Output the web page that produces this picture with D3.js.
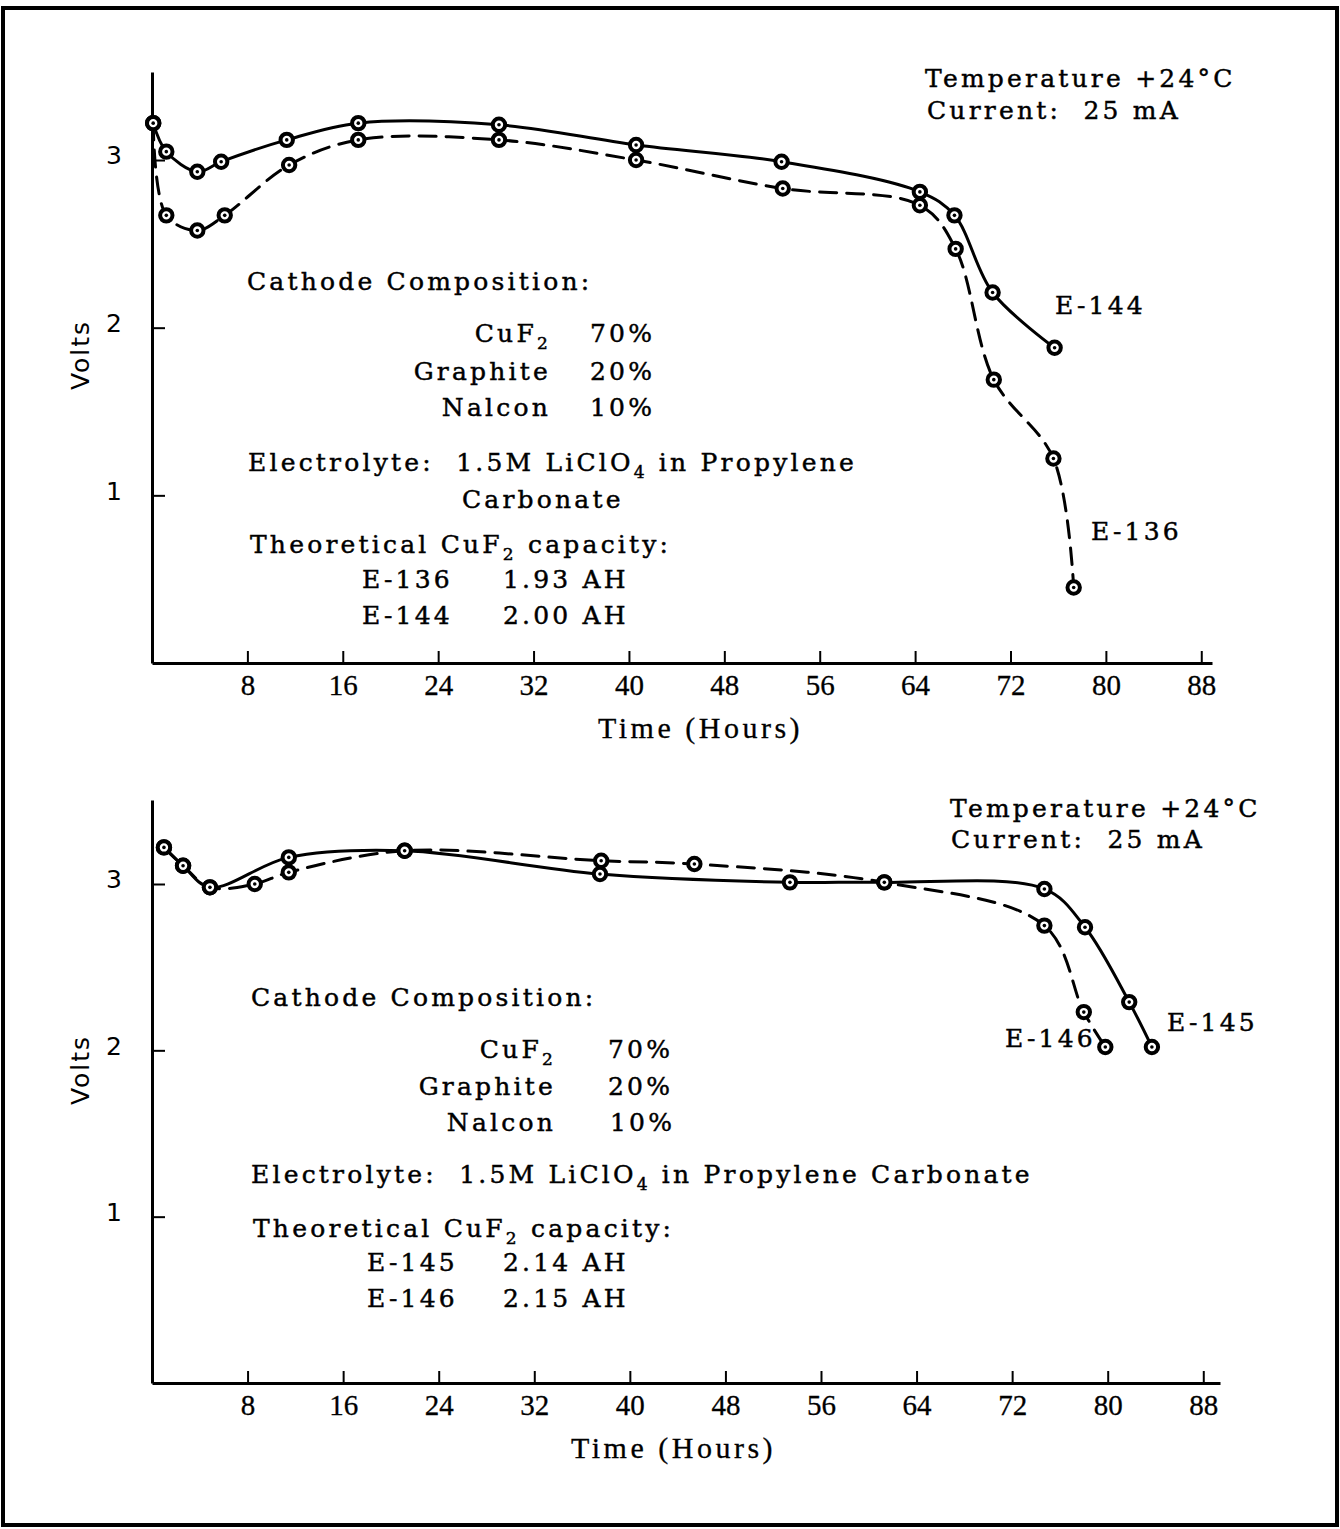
<!DOCTYPE html>
<html>
<head>
<meta charset="utf-8">
<title>CuF2 cells - discharge at 25 mA</title>
<style>
  body { margin: 0; background: #fff; }
  svg text { white-space: pre; }
</style>
<script src="https://cdn.jsdelivr.net/npm/d3@7"></script>
</head>
<body>
<script>
// ---- data (hours, volts) ----
var hourTicks = [8, 16, 24, 32, 40, 48, 56, 64, 72, 80, 88];
var voltTicks = [1, 2, 3];

// top plot
var e144Hours = [0.1, 1.2, 3.8, 5.8, 11.3, 17.3, 29.1, 40.6, 52.8, 64.4, 67.3, 70.5, 75.7];
var e144Volts = [3.22, 3.05, 2.93, 2.99, 3.12, 3.22, 3.21, 3.09, 2.99, 2.81, 2.67, 2.21, 1.88];
var e136Hours = [0.1, 1.2, 3.8, 6.1, 11.5, 17.3, 29.1, 40.6, 52.9, 64.4, 67.4, 70.6, 75.6, 77.3];
var e136Volts = [3.22, 2.67, 2.58, 2.67, 2.97, 3.12, 3.12, 3.00, 2.83, 2.73, 2.47, 1.69, 1.22, 0.45];

// bottom plot
var e145Hours = [1.0, 2.6, 4.85, 11.45, 21.15, 37.5, 53.4, 61.3, 74.7, 78.1, 81.8, 83.7];
var e145Volts = [3.22, 3.11, 2.98, 3.16, 3.20, 3.06, 3.01, 3.01, 2.97, 2.74, 2.29, 2.02];
var e146Hours = [1.0, 2.6, 4.85, 8.6, 11.45, 21.15, 37.6, 45.4, 61.3, 74.7, 78.0, 79.8];
var e146Volts = [3.22, 3.11, 2.98, 3.00, 3.07, 3.20, 3.14, 3.12, 3.01, 2.75, 2.23, 2.02];

var W = 1340, H = 1529;
var serif = "'DejaVu Serif', serif";

var svg = d3.select("body").append("svg")
    .attr("width", W)
    .attr("height", H);

// page frame
svg.append("rect")
    .attr("x", 3).attr("y", 8)
    .attr("width", W - 6).attr("height", H - 12)
    .attr("fill", "none")
    .attr("stroke", "#000")
    .attr("stroke-width", 4);

function zip(hs, vs) {
  return hs.map(function(h, i) { return {h: h, v: vs[i]}; });
}

// one line of annotation; parts may contain {sub: "2"}
function note(g, x, y, parts, anchor) {
  var t = g.append("text")
      .attr("x", x).attr("y", y)
      .attr("text-anchor", anchor || "start")
      .attr("font-family", serif)
      .attr("font-size", 25)
      .attr("letter-spacing", 3.2)
      .attr("fill", "#000")
      .attr("stroke", "#000")
      .attr("stroke-width", 0.45);
  var shifted = false;
  parts.forEach(function(p) {
    if (typeof p === "string") {
      t.append("tspan").attr("dy", shifted ? -7 : 0).text(p);
      shifted = false;
    } else {
      t.append("tspan").attr("dy", 7).attr("font-size", 17).text(p.sub);
      shifted = true;
    }
  });
  return t;
}

function panel(cfg) {
  var g = svg.append("g");

  var x = d3.scaleLinear().domain([0, cfg.hMax]).range([152, cfg.xRight]);
  var y = d3.scaleLinear().domain([0, cfg.vMax]).range([cfg.y0, cfg.yTop]);

  var xAxis = d3.axisBottom(x)
      .tickValues(hourTicks)
      .tickSize(-12)
      .tickSizeOuter(0)
      .tickPadding(11)
      .tickFormat(d3.format("d"));

  var gx = g.append("g")
      .attr("transform", "translate(0," + cfg.y0 + ")")
      .call(xAxis);
  gx.select(".domain").attr("stroke-width", 3);
  gx.selectAll(".tick line").attr("stroke-width", 2);
  gx.selectAll("text")
      .attr("font-family", "'Liberation Serif', serif")
      .attr("font-size", 29)
      .attr("stroke", "#000")
      .attr("stroke-width", 0.3);

  var yAxis = d3.axisLeft(y)
      .tickValues(voltTicks)
      .tickSize(-13)
      .tickSizeOuter(0)
      .tickPadding(30)
      .tickFormat(d3.format("d"));

  var gy = g.append("g")
      .attr("transform", "translate(152,0)")
      .call(yAxis);
  gy.select(".domain").attr("stroke-width", 3);
  gy.selectAll(".tick line").attr("stroke-width", 2);
  gy.selectAll("text")
      .attr("font-family", "'DejaVu Sans', sans-serif")
      .attr("font-size", 25)
      .attr("dy", "0.15em");

  g.append("text")
      .attr("transform", "translate(80," + cfg.voltsY + ") rotate(-90)")
      .attr("text-anchor", "middle")
      .attr("dominant-baseline", "central")
      .attr("font-family", "'DejaVu Sans', sans-serif")
      .attr("font-size", 25)
      .attr("letter-spacing", 2)
      .text("Volts");

  g.append("text")
      .attr("x", cfg.timeX).attr("y", cfg.y0 + 75)
      .attr("font-family", "'Liberation Serif', serif")
      .attr("font-size", 30)
      .attr("letter-spacing", 3.5)
      .attr("stroke", "#000")
      .attr("stroke-width", 0.3)
      .text("Time (Hours)");

  var line = d3.line()
      .x(function(d) { return x(d.h); })
      .y(function(d) { return y(d.v); })
      .curve(d3.curveCatmullRom.alpha(0.5));

  cfg.series.forEach(function(s) {
    var pts = zip(s.hours, s.volts);
    g.append("path").datum(pts)
        .attr("d", line)
        .attr("fill", "none")
        .attr("stroke", "#000")
        .attr("stroke-width", 3)
        .attr("stroke-dasharray", s.dashed ? "17,10" : null)
        .attr("stroke-linecap", "round");

    var m = g.selectAll(null).data(pts).enter().append("g")
        .attr("transform", function(d) { return "translate(" + x(d.h) + "," + y(d.v) + ")"; });
    m.append("circle")
        .attr("r", 6.2)
        .attr("fill", "#fff")
        .attr("stroke", "#000")
        .attr("stroke-width", 4);
    m.append("circle")
        .attr("r", 1.8)
        .attr("fill", "#000");

    note(g, s.labelX, s.labelY, [s.name]);
  });

  cfg.notes.forEach(function(n) { note(g, n[0], n[1], n[2], n[3]); });
}

panel({
  hMax: 88.9, xRight: 1212,
  vMax: 3.525, y0: 663, yTop: 72,
  voltsY: 355, timeX: 598,
  series: [
    {name: "E-144", hours: e144Hours, volts: e144Volts, dashed: false, labelX: 1055, labelY: 314},
    {name: "E-136", hours: e136Hours, volts: e136Volts, dashed: true, labelX: 1091, labelY: 540}
  ],
  notes: [
    [925, 87, ["Temperature +24°C"]],
    [927, 119, ["Current:  25 mA"]],
    [247, 290, ["Cathode Composition:"]],
    [551, 342, ["CuF", {sub: "2"}], "end"],
    [590, 342, ["70%"]],
    [551, 380, ["Graphite"], "end"],
    [590, 380, ["20%"]],
    [551, 416, ["Nalcon"], "end"],
    [590, 416, ["10%"]],
    [248, 471, ["Electrolyte:  1.5M LiClO", {sub: "4"}, " in Propylene"]],
    [462, 508, ["Carbonate"]],
    [250, 553, ["Theoretical CuF", {sub: "2"}, " capacity:"]],
    [362, 588, ["E-136"]],
    [503, 588, ["1.93 AH"]],
    [362, 624, ["E-144"]],
    [503, 624, ["2.00 AH"]]
  ]
});

panel({
  hMax: 89.4, xRight: 1220,
  vMax: 3.505, y0: 1383, yTop: 800,
  voltsY: 1070, timeX: 571,
  series: [
    {name: "E-145", hours: e145Hours, volts: e145Volts, dashed: false, labelX: 1167, labelY: 1031},
    {name: "E-146", hours: e146Hours, volts: e146Volts, dashed: true, labelX: 1005, labelY: 1047}
  ],
  notes: [
    [950, 817, ["Temperature +24°C"]],
    [951, 848, ["Current:  25 mA"]],
    [251, 1006, ["Cathode Composition:"]],
    [556, 1058, ["CuF", {sub: "2"}], "end"],
    [608, 1058, ["70%"]],
    [556, 1095, ["Graphite"], "end"],
    [608, 1095, ["20%"]],
    [556, 1131, ["Nalcon"], "end"],
    [610, 1131, ["10%"]],
    [251, 1183, ["Electrolyte:  1.5M LiClO", {sub: "4"}, " in Propylene Carbonate"]],
    [253, 1237, ["Theoretical CuF", {sub: "2"}, " capacity:"]],
    [367, 1271, ["E-145"]],
    [503, 1271, ["2.14 AH"]],
    [367, 1307, ["E-146"]],
    [503, 1307, ["2.15 AH"]]
  ]
});
</script>
</body>
</html>
